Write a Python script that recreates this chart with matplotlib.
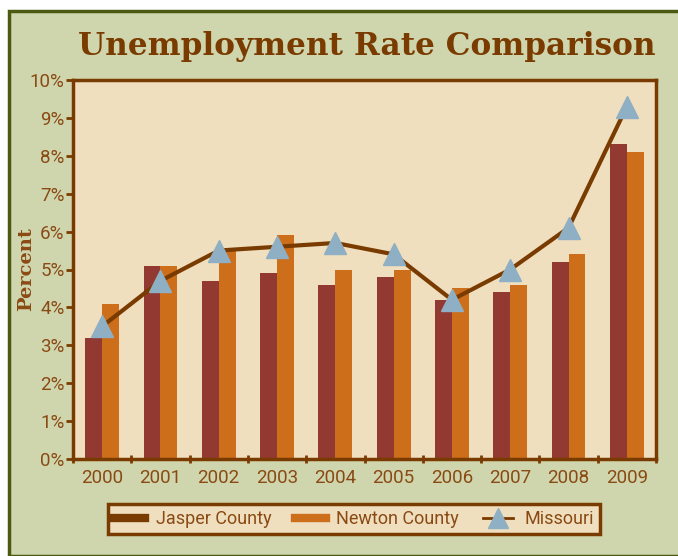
import matplotlib
matplotlib.use('Agg')
import numpy as np
import matplotlib.pyplot as plt
from matplotlib.lines import Line2D
from matplotlib.patches import Rectangle
from matplotlib.ticker import FuncFormatter, MultipleLocator

years = ['2000', '2001', '2002', '2003', '2004', '2005', '2006', '2007', '2008', '2009']
jasper = [3.2, 5.1, 4.7, 4.9, 4.6, 4.8, 4.2, 4.4, 5.2, 8.3]
newton = [4.1, 5.1, 5.5, 5.9, 5.0, 5.0, 4.5, 4.6, 5.4, 8.1]
missouri = [3.5, 4.7, 5.5, 5.6, 5.7, 5.4, 4.2, 5.0, 6.1, 9.3]

brown = '#7a3b00'
txt = '#8a4a14'
panel = '#cfd6ad'
plotbg = '#efdfbf'
c_jasper = '#923a31'
c_newton = '#cc6e1a'
c_tri = '#8eafc4'
narrow = ['Roboto', 'DejaVu Sans']

fig = plt.figure(figsize=(6.78, 5.56), dpi=100)
fig.patch.set_facecolor('white')
fig.patches.append(Rectangle((9/678, 0), 1.0, 1 - 11/556, transform=fig.transFigure,
                             facecolor=panel, edgecolor='#4b5a10', linewidth=2.5, zorder=-10))

ax = fig.add_axes([73/678, 1 - 459/556, 583/678, 379/556])
ax.set_facecolor(plotbg)

x = np.arange(len(years))
w = 0.29
ax.bar(x - w/2, jasper, w, color=c_jasper, zorder=2)
ax.bar(x + w/2, newton, w, color=c_newton, zorder=2)
ax.plot(x, missouri, color=brown, lw=3, marker='^', markersize=16,
        markerfacecolor=c_tri, markeredgecolor=c_tri, zorder=3)

ax.set_xlim(-0.5, len(years) - 0.5)
ax.set_ylim(0, 10)
ax.yaxis.set_major_locator(MultipleLocator(1))
ax.yaxis.set_major_formatter(FuncFormatter(lambda v, p: '%d%%' % v))
ax.set_xticks(np.arange(-0.5, len(years), 1.0))
ax.set_xticklabels([])
ax.set_xticks(x, minor=True)
ax.set_xticklabels(years, minor=True)
ax.tick_params(axis='x', which='major', length=6, width=2, color=brown, direction='inout')
ax.tick_params(axis='x', which='minor', length=0, pad=7)
ax.tick_params(axis='y', length=5, width=2, color=brown, direction='out', pad=1)
for lab in ax.get_xticklabels(minor=True) + ax.get_yticklabels():
    lab.set_family(narrow)
    lab.set_fontsize(13.5)
    lab.set_color(txt)
for s in ax.spines.values():
    s.set_color(brown)
    s.set_linewidth(2.5)

ax.set_ylabel('Percent', family='DejaVu Serif', fontweight='bold', fontsize=14, color=txt)
ax.yaxis.set_label_coords(-38/583, 0.5)

fig.text(367/678, 1 - 47/556, 'Unemployment Rate Comparison', ha='center', va='center',
         family='DejaVu Serif', fontweight='bold', fontsize=22.4, color=brown)

handles = [Line2D([0], [0], color=brown, lw=6),
           Line2D([0], [0], color=c_newton, lw=6),
           Line2D([0], [0], color=brown, lw=2, marker='^', markersize=15,
                  markerfacecolor=c_tri, markeredgecolor=c_tri)]
leg = fig.legend(handles, ['Jasper County', 'Newton County', 'Missouri'],
                 loc='center', bbox_to_anchor=(354/678, 1 - 519/556), ncol=3,
                 frameon=True, fancybox=False, handlelength=1.7, handletextpad=0.6,
                 columnspacing=1.3, borderpad=0.35, prop={'family': narrow, 'size': 13})
leg.get_frame().set_facecolor(plotbg)
leg.get_frame().set_edgecolor(brown)
leg.get_frame().set_linewidth(2.5)
leg.get_frame().set_alpha(1)
for t in leg.get_texts():
    t.set_color(txt)

fig.savefig('out.png', dpi=100, facecolor=fig.get_facecolor())
